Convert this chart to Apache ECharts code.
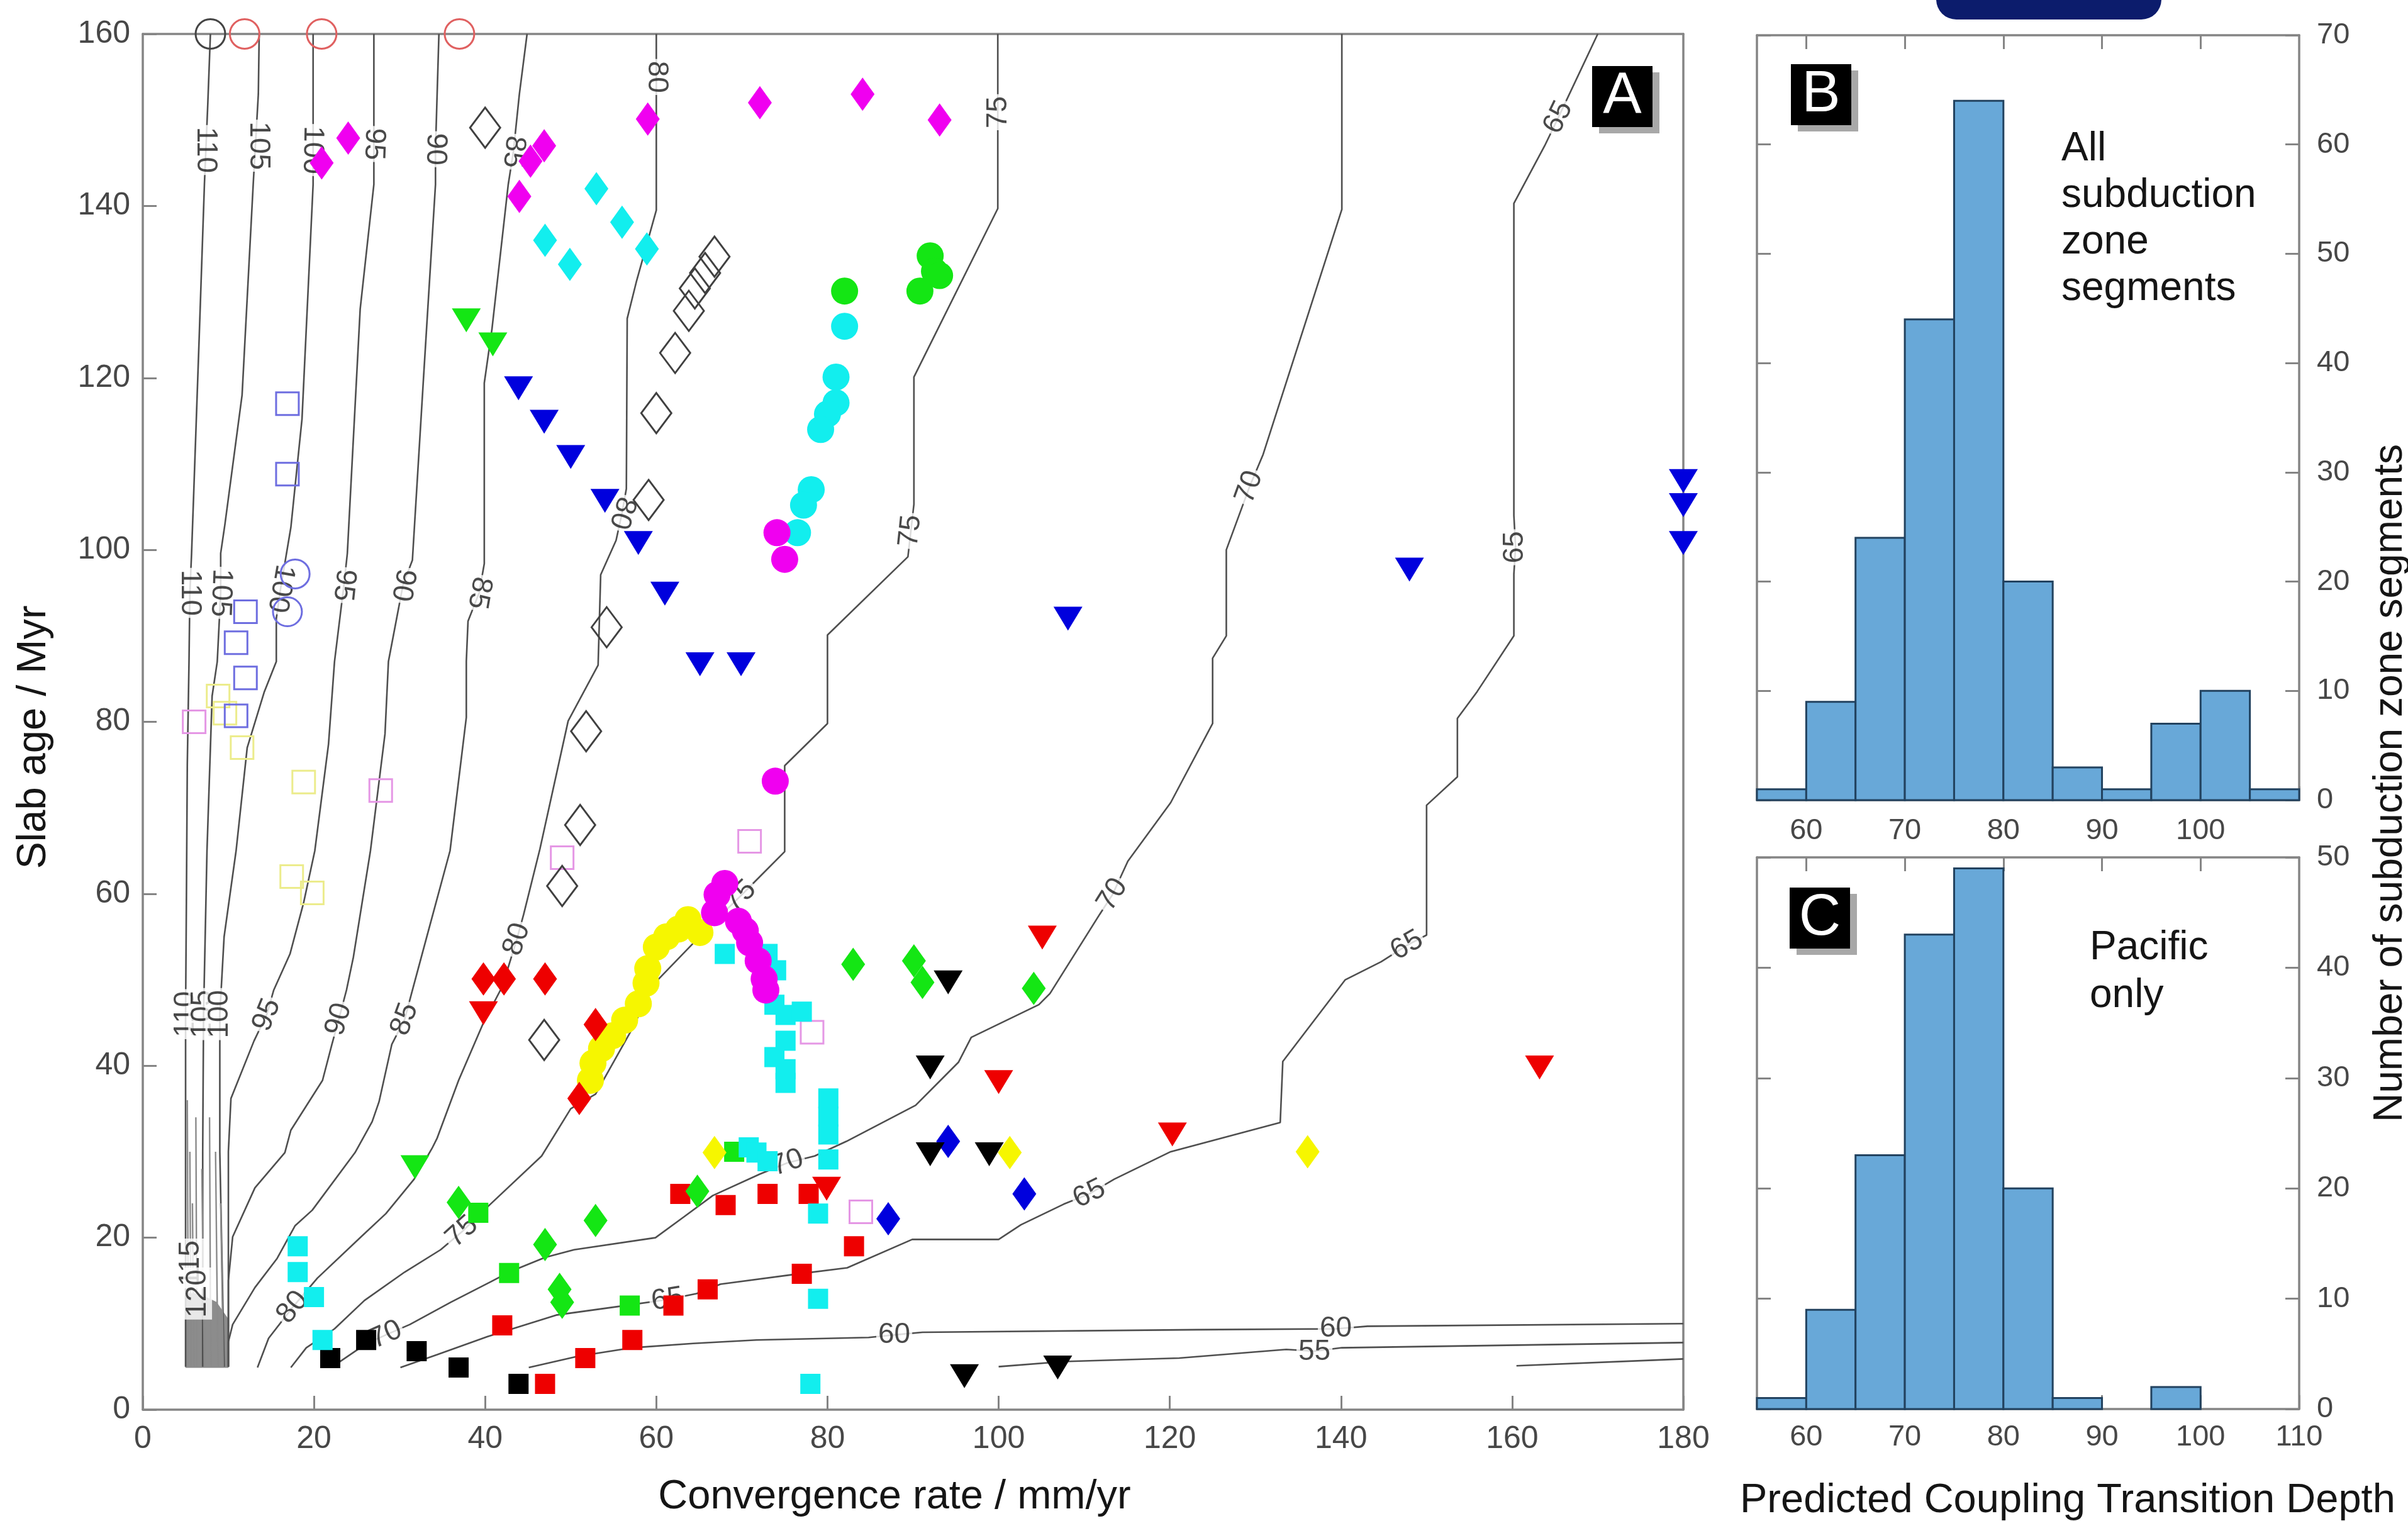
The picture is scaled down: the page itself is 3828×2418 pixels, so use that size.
<!DOCTYPE html>
<html><head><meta charset="utf-8">
<script src="https://cdn.jsdelivr.net/npm/echarts@6/dist/echarts.min.js"></script>
<style>html,body{margin:0;padding:0;background:#fff}#c{width:3828px;height:2418px}</style>
</head><body><div id="c"></div>
<script>
// ---------------- DATA ----------------
// Panel A axes ticks
const aXTicks = [0,20,40,60,80,100,120,140,160,180];
const aYTicks = [0,20,40,60,80,100,120,140,160];
// Histogram axes ticks
const histXLabelsB = [60,70,80,90,100];
const histXLabelsC = [60,70,80,90,100,110];
const histXTickVals = [60,70,80,90,100,110];
const histBYTicks = [0,10,20,30,40,50,60,70];
const histCYTicks = [0,10,20,30,40,50];
// Histogram bins (5 km) and counts
const binStarts = [55,60,65,70,75,80,85,90,95,100,105];
const binEnds   = [60,65,70,75,80,85,90,95,100,105,110];
const countsAll     = [1,9,24,44,64,20,3,1,7,10,1];
const countsPacific = [1,9,23,43,49,20,1,0,2,0,0];

// Contours of coupling transition depth (convergence rate mm/yr, slab age Myr)
const c110 = [[7.9,160],[7.6,152],[7.2,142.5],[6.6,125],[6.0,108],[5.7,99.6],[5.5,95],[5.4,87],[5.2,75],[5.1,60],[5.0,46],[5.0,30],[5.0,5]];
const c105 = [[13.6,160],[13.5,153],[12.9,142.5],[11.6,118],[9.6,103],[9.1,99.6],[9.1,95],[8.7,87],[8.1,83],[7.5,65],[7.1,46],[7.0,30],[7.0,5]];
const c100 = [[19.9,160],[19.9,142.5],[18.6,115.2],[17.3,102.6],[16.1,95.5],[15.6,92],[15.6,87],[14.2,83.5],[12.2,77],[10.9,65],[9.5,55],[9.0,46],[9.0,30],[9.3,15],[9.5,5]];
const c95 = [[27.0,160],[27.0,142.5],[25.4,128],[23.9,99.6],[23.5,95.9],[22.4,87],[21.7,77.4],[20.1,65],[18.8,59],[17.2,53],[15.3,48.8],[14.5,46],[13.0,42.9],[10.3,36.2],[10.0,30],[10.0,19],[10.0,5]];
const c90 = [[34.6,160],[34.2,146.6],[34.2,142.5],[32.8,120],[31.5,98.8],[30.4,95.9],[28.7,87],[28.3,78.6],[26.6,65],[24.6,52.6],[23.8,48.8],[22.9,45.4],[22.1,42.5],[21.0,38.3],[17.3,32.5],[16.6,29.9],[13.1,25.8],[10.5,20.1],[10.0,15],[10.0,5]];
const c85 = [[44.9,160],[44.0,153],[43.3,146.3],[42.7,142.5],[40.8,125.7],[39.9,119.4],[39.9,98.4],[39.3,95],[38.0,91.7],[37.8,87],[37.8,80.5],[35.9,65],[33.1,54.7],[31.4,48.4],[30.6,45.4],[29.1,42.5],[27.6,35.8],[26.8,33.5],[24.8,29.9],[19.8,23.2],[17.8,21.4],[15.7,17.6],[13.1,14.2],[10.5,9.9],[10.0,7.9],[10.0,5]];
const c80 = [[60.0,160],[60.0,155],[60.0,139.5],[57.7,131.3],[56.6,126.9],[56.5,107.1],[56.0,104.3],[55.3,101.1],[53.5,97.1],[53.2,86.6],[49.7,80.1],[46.4,65.2],[44.5,57.6],[43.7,54.7],[42.0,49.2],[39.8,45.0],[36.9,38.3],[34.4,31.6],[33.8,30.4],[31.7,26.8],[28.4,22.8],[25.5,20.1],[20.4,15.3],[17.5,11.9],[14.7,8.3],[13.4,4.9]];
const c75 = [[99.9,160],[99.9,148],[99.9,139.7],[90.1,120.1],[90.1,105.3],[89.4,99.2],[80.0,90.1],[80.0,79.8],[75.0,74.9],[75.0,64.9],[71.5,61.4],[69.8,59.7],[66.4,56.4],[59.9,49.7],[56.9,43.8],[52.9,36.7],[50.0,35.0],[46.6,29.5],[40.3,23.6],[37.3,20.7],[34.8,18.6],[30.6,16.0],[25.9,12.7],[22.4,9.4],[19.1,7.2],[17.3,4.9]];
const c70 = [[140.1,160],[140.1,139.6],[130.9,111.1],[129.3,107.3],[126.6,100.0],[126.6,90.0],[125.0,87.4],[125.0,79.8],[120.1,70.6],[115.1,63.8],[113.3,59.9],[111.8,57.6],[106.0,48.4],[104.7,47.1],[96.8,43.3],[95.3,40.4],[93.2,38.3],[90.3,35.4],[82.2,31.2],[78.5,29.5],[75.3,28.7],[72.1,27.4],[66.6,24.9],[63.2,22.4],[59.9,20.0],[50.4,18.6],[47.0,17.7],[42.8,16.0],[40.7,14.9],[36.0,12.5],[31.2,9.9],[28.4,8.7],[26.0,7.6],[22.9,5.5]];
const c65 = [[170.0,160],[165.4,150.3],[163.8,147.0],[160.2,140.3],[160.2,104],[160.4,100.3],[160.2,97.2],[160.2,90.0],[155.9,83.5],[153.6,80.4],[153.6,73.6],[150.0,70.3],[150.0,55.2],[147.7,54.0],[144.7,52.1],[140.5,50.0],[133.2,40.5],[132.9,33.4],[120.1,30.0],[113.5,26.8],[110.6,25.1],[107.6,23.9],[102.6,21.5],[100.0,19.8],[89.9,19.8],[82.3,16.5],[75.9,15.7],[67.5,14.6],[64.7,13.5],[61.3,12.8],[56.3,12.1],[48.3,11.0],[40.3,8.5],[34.4,6.4],[30.1,4.9]];
const c60 = [[45.1,4.9],[50.8,6.2],[57.2,7.2],[64.3,7.7],[71.7,8.1],[84.8,8.4],[87.8,8.7],[91.1,9.0],[123.2,9.3],[139.4,9.4],[143.1,9.7],[180,10.0]];
const c55 = [[100.0,5.0],[107.6,5.6],[121.1,6.0],[133.6,7.0],[136.9,6.8],[140.1,7.2],[180,7.8]];
const c50 = [[160.5,5.1],[180,5.9]];
const cFan1 = [[5.6,5],[5.6,12],[5.5,30]];
const cFan2 = [[6.3,5],[6.3,12],[6.2,34]];
const cFan3 = [[8.0,5],[7.9,12],[7.8,34]];
const cFan4 = [[8.8,5],[8.7,12],[8.5,30]];
const cFan5 = [[5.3,5],[5.3,12],[5.2,36]];
const cFan6 = [[7.2,5],[7.1,12],[6.9,28]];
const cFan7 = [[9.4,5],[9.3,12],[9.1,24]];
const cFan8 = [[6.0,5],[5.9,12],[5.8,24]];
const fanPolygon = [[5.0,4.9],[10.0,4.9],[10.0,10.5],[8.6,12.5],[6.5,13.5],[5.0,13.5]];

// Contour labels: [x, y, text]
const contourLabels = [
 [7.3,146.5,'110'],[13.5,147,'105'],[19.8,146.5,'100'],[27.0,147.2,'95'],[34.2,146.6,'90'],[43.3,146.3,'85'],
 [5.5,95.0,'110'],[9.1,95.0,'105'],[16.1,95.5,'100'],[23.5,95.9,'95'],[30.4,95.9,'90'],[39.3,95.0,'85'],
 [60.0,155,'80'],[100.0,150.9,'75'],[56.0,104.3,'80'],[89.7,102.2,'75'],[129.3,107.3,'70'],[160.3,100.3,'65'],[165.4,150.3,'65'],
 [5.0,46,'110'],[7.0,46,'105'],[9.0,46,'100'],[14.5,45.9,'95'],[22.9,45.4,'90'],[30.6,45.4,'85'],[43.7,54.7,'80'],
 [17.5,11.9,'80'],[37.3,20.7,'75'],[69.8,59.7,'75'],[28.4,8.7,'70'],[75.3,28.7,'70'],[113.3,59.9,'70'],
 [61.3,12.8,'65'],[110.6,25.1,'65'],[147.7,54.0,'65'],[87.8,8.7,'60'],[139.4,9.4,'60'],[136.9,6.7,'55'],
 [5.6,17,'115'],[6.4,13.5,'120']
];
const contourLabelAngles = [
 -90,-90,-91,-92,-91,-96,
 -90,-92,-100,-96,-100,-100,
 -90,90,-107,84,70,90,64,
 90,90,90,68,74,70,72,
 51,42,44,24,19,58,
 9,26,30,0,0,0,
 90,90
];

// Scatter data: [convergence rate, slab age]
const magentaDiamonds = [[20.9,145.0],[24.0,147.9],[44.0,141.1],[45.3,145.2],[46.9,147.0],[59.0,150.1],[72.1,152.0],[84.1,153.0],[93.1,150.0]];
const cyanDiamonds = [[53.0,142.0],[56.0,138.1],[47.0,136.0],[49.9,133.2],[58.9,135.0]];
const openDiamonds = [[40.0,149.1],[66.8,134.1],[65.7,132.2],[64.5,130.4],[63.8,127.8],[62.2,122.9],[60.0,115.9],[59.1,105.8],[54.2,91.0],[51.8,78.9],[51.1,68.0],[49.0,60.9],[46.9,43.0]];
const greenTriangles = [[37.8,126.7],[40.9,123.9],[31.8,28.2]];
const blueTriangles = [[43.9,118.8],[46.9,114.9],[50.0,110.8],[54.0,105.7],[57.9,100.8],[61.0,94.9],[65.1,86.7],[69.9,86.7],[108.1,92.0],[148.0,97.7],[180,108.0],[180,105.2],[180,100.8]];
const redTriangles = [[39.8,46.1],[105.1,54.9],[100.0,38.1],[79.9,25.7],[120.3,32.0],[163.2,39.8]];
const blackTriangles = [[94.1,49.7],[92.0,39.8],[92.0,29.7],[98.9,29.7],[96.0,3.9],[106.9,4.9]];
const greenCircles = [[82.0,130.1],[92.0,134.2],[92.5,132.4],[93.1,131.9],[90.8,130.1]];
const cyanCircles = [[82.0,126.0],[81.0,120.1],[81.0,117.1],[80.0,115.8],[79.2,114.0],[78.1,107.0],[77.2,105.2],[76.5,102.0]];
const yellowCircles = [[52.3,38.3],[52.6,40.3],[53.6,42.0],[54.9,43.5],[56.3,45.3],[57.9,47.2],[58.8,49.6],[59.0,51.3],[60.0,53.8],[61.2,55.0],[62.6,55.9],[63.7,57.0],[65.1,55.5]];
const magentaCircles = [[74.1,102.0],[75.0,98.9],[73.9,73.1],[68.0,61.2],[67.1,59.9],[66.8,57.8],[69.6,56.8],[70.4,55.7],[70.9,54.3],[71.9,52.2],[72.6,50.1],[72.8,48.8]];
const redDiamonds = [[39.8,50.1],[42.2,50.1],[47.0,50.1],[52.9,44.8],[51.0,36.2]];
const greenDiamonds = [[36.9,24.1],[47.0,19.2],[52.9,22.0],[48.7,14.0],[49.0,12.5],[64.8,25.4],[83.0,51.8],[90.1,52.2],[91.1,49.7],[104.1,49.0]];
const blueDiamonds = [[94.1,31.2],[103.0,25.1],[87.1,22.2]];
const yellowDiamonds = [[66.8,29.9],[101.3,29.9],[136.1,30.0]];
const redSquares = [[62.8,25.1],[68.1,23.8],[73.0,25.1],[77.8,25.1],[83.1,19.0],[77.0,15.8],[66.0,14.0],[62.0,12.1],[57.2,8.1],[42.0,9.8],[51.7,6.0],[47.0,3.0]];
const blackSquares = [[21.9,6.0],[26.1,8.1],[32.0,6.8],[36.9,4.9],[43.9,3.0]];
const greenSquares = [[42.8,15.9],[56.9,12.1],[69.1,30.0],[39.2,22.9]];
const cyanSquares = [[18.1,19.0],[18.1,16.0],[20.0,13.1],[21.0,8.1],[68.0,53.0],[73.0,53.0],[74.0,51.1],[73.8,47.1],[75.1,45.9],[77.0,46.3],[75.1,42.9],[73.8,41.0],[75.1,39.6],[75.1,38.0],[80.1,36.2],[80.1,34.1],[80.1,32.0],[80.1,29.1],[70.8,30.5],[71.7,29.9],[73.0,28.9],[78.9,22.8],[78.9,12.9],[78.0,3.0]];
const violetOpenSquares = [[6.0,80.0],[27.8,72.0],[49.0,64.2],[70.9,66.1],[78.2,43.9],[83.9,23.0]];
const blueOpenSquares = [[16.9,117.0],[16.9,108.8],[12.0,92.8],[10.9,89.2],[12.0,85.1],[10.9,80.7]];
const yellowOpenSquares = [[8.8,83.0],[9.6,81.0],[11.6,77.0],[18.8,73.0],[17.4,62.0],[19.8,60.1]];
const blueOpenCircles = [[17.8,97.2],[16.9,92.8]];
const redOpenCircles = [[11.9,160],[20.9,160],[37.0,160]];
const blackOpenCircles = [[7.9,160]];

// ---------------- CHART ----------------
const FONT = '"Liberation Sans", Arial, Helvetica, sans-serif';
const AX = '#858585';
const chart = echarts.init(document.getElementById('c'), null, {renderer:'canvas', width:3828, height:2418});

function xAx(grid, min, max, pos, opts) {
  return Object.assign({
    gridIndex:grid, type:'value', min:min, max:max, position:pos,
    axisLine:{show:true, onZero:false, lineStyle:{color:AX, width:3.5}},
    axisTick:{show:false}, axisLabel:{show:false}, splitLine:{show:false}
  }, opts || {});
}
const tickStyle = {show:true, inside:true, length:22, lineStyle:{color:AX, width:3}};
const labStyle = (size, margin) => ({show:true, fontSize:size, color:'#474747', fontFamily:FONT, margin:margin});

const xAxis = [
  xAx(0, aXTicks[0], aXTicks[aXTicks.length-1], 'bottom', {interval:aXTicks[1]-aXTicks[0], axisTick:tickStyle, axisLabel:labStyle(50,22)}),
  xAx(0, aXTicks[0], aXTicks[aXTicks.length-1], 'top', {interval:aXTicks[1]-aXTicks[0]}),
  xAx(1, binStarts[0], binEnds[binEnds.length-1], 'bottom', {axisTick:Object.assign({customValues:histXTickVals}, tickStyle), axisLabel:Object.assign({customValues:histXLabelsB}, labStyle(47,26))}),
  xAx(1, binStarts[0], binEnds[binEnds.length-1], 'top', {axisTick:Object.assign({customValues:histXLabelsB}, tickStyle)}),
  xAx(2, binStarts[0], binEnds[binEnds.length-1], 'bottom', {axisTick:Object.assign({customValues:histXTickVals}, tickStyle), axisLabel:Object.assign({customValues:histXLabelsC}, labStyle(47,22))}),
  xAx(2, binStarts[0], binEnds[binEnds.length-1], 'top', {axisTick:Object.assign({customValues:histXLabelsB}, tickStyle)})
];
const yAxis = [
  xAx(0, aYTicks[0], aYTicks[aYTicks.length-1], 'left', {interval:aYTicks[1]-aYTicks[0], axisTick:tickStyle, axisLabel:labStyle(50,20)}),
  xAx(0, aYTicks[0], aYTicks[aYTicks.length-1], 'right', {interval:aYTicks[1]-aYTicks[0]}),
  xAx(1, histBYTicks[0], histBYTicks[histBYTicks.length-1], 'right', {interval:histBYTicks[1]-histBYTicks[0], axisTick:tickStyle, axisLabel:labStyle(47,28)}),
  xAx(1, histBYTicks[0], histBYTicks[histBYTicks.length-1], 'left', {interval:histBYTicks[1]-histBYTicks[0], axisTick:tickStyle}),
  xAx(2, histCYTicks[0], histCYTicks[histCYTicks.length-1], 'right', {interval:histCYTicks[1]-histCYTicks[0], axisTick:tickStyle, axisLabel:labStyle(47,28)}),
  xAx(2, histCYTicks[0], histCYTicks[histCYTicks.length-1], 'left', {interval:histCYTicks[1]-histCYTicks[0], axisTick:tickStyle})
];

const series = [];
// fan of crowded contours (filled grey)
series.push({
  type:'custom', xAxisIndex:0, yAxisIndex:0, z:2, silent:true,
  data:[fanPolygon[0]],
  renderItem:function(params, api){
    const pts = fanPolygon.map(p => api.coord(p));
    return {type:'polygon', shape:{points:pts}, style:{fill:'#8c8c8c', stroke:'#8c8c8c', lineWidth:1}};
  }
});
const contourList = [c110,c105,c100,c95,c90,c85,c80,c75,c70,c65,c60,c55,c50];
contourList.forEach(c => series.push({
  type:'line', xAxisIndex:0, yAxisIndex:0, data:c, symbol:'none', showSymbol:false,
  lineStyle:{color:'#4f4f4f', width:2.6}, silent:true, z:2, animation:false
}));
[cFan1,cFan2,cFan3,cFan4,cFan5,cFan6,cFan7,cFan8].forEach(c => series.push({
  type:'line', xAxisIndex:0, yAxisIndex:0, data:c, symbol:'none', showSymbol:false,
  lineStyle:{color:'#8a8a8a', width:2.4}, silent:true, z:2, animation:false
}));
series.push({
  type:'scatter', xAxisIndex:0, yAxisIndex:0, z:3, silent:true, symbolSize:1,
  itemStyle:{color:'rgba(0,0,0,0)'},
  label:{show:true, position:'inside', fontSize:46, color:'#1c1c1c', fontFamily:FONT,
         backgroundColor:'#ffffff', padding:[0,3], lineHeight:46},
  data: contourLabels.map((l,i) => ({value:[l[0], l[1]], label:{formatter:l[2], rotate:contourLabelAngles[i]}}))
});

function mark(data, symbol, size, color, filled, rotate, z) {
  const s = {
    type:'scatter', xAxisIndex:0, yAxisIndex:0, data:data, symbol:symbol, symbolSize:size,
    symbolRotate: rotate || 0, clip:false, silent:true, z:z || 5, animation:false
  };
  s.itemStyle = filled ? {color:color, opacity:1} : {color:'rgba(0,0,0,0)', borderColor:color, borderWidth:3, opacity:1};
  return s;
}
const DIA = [38,53], TRI = [46,38], SQ = 32, CIR = 43;
series.push(mark(violetOpenSquares, 'rect', 36, '#e597e5', false, 0, 4));
series.push(mark(yellowOpenSquares, 'rect', 36, '#ecec8c', false, 0, 4));
series.push(mark(blueOpenSquares, 'rect', 36, '#6e6ee0', false, 0, 4));
series.push(mark(blueOpenCircles, 'circle', 46, '#6e6ee0', false, 0, 4));
series.push(mark(redOpenCircles, 'circle', 47, '#e06060', false, 0, 4));
series.push(mark(blackOpenCircles, 'circle', 47, '#444444', false, 0, 4));
series.push(mark(openDiamonds, 'diamond', [48,64], '#404040', false, 0, 4));
series.push(mark(magentaDiamonds, 'diamond', DIA, '#f000f0', true));
series.push(mark(cyanDiamonds, 'diamond', DIA, '#12eeee', true));
series.push(mark(greenCircles, 'circle', CIR, '#14e614', true));
series.push(mark(cyanCircles, 'circle', CIR, '#12eeee', true));
series.push(mark(yellowCircles, 'circle', CIR, '#f6f600', true));
series.push(mark(redSquares, 'rect', SQ, '#ee0000', true));
series.push(mark(blackSquares, 'rect', SQ, '#000000', true));
series.push(mark(greenSquares, 'rect', SQ, '#14e614', true));
series.push(mark(cyanSquares, 'rect', SQ, '#12eeee', true, 0, 6));
series.push(mark(magentaCircles, 'circle', CIR, '#f000f0', true, 0, 6));
series.push(mark(redDiamonds, 'diamond', DIA, '#ee0000', true));
series.push(mark(greenDiamonds, 'diamond', DIA, '#14e614', true));
series.push(mark(blueDiamonds, 'diamond', DIA, '#0000dd', true));
series.push(mark(yellowDiamonds, 'diamond', DIA, '#f6f600', true));
series.push(mark(greenTriangles, 'triangle', TRI, '#14e614', true, 180, 7));
series.push(mark(blueTriangles, 'triangle', TRI, '#0000dd', true, 180, 7));
series.push(mark(redTriangles, 'triangle', TRI, '#ee0000', true, 180, 7));
series.push(mark(blackTriangles, 'triangle', TRI, '#000000', true, 180, 7));

// Histograms
function histSeries(counts, xi, yi) {
  const data = [];
  counts.forEach((c,i) => { if (c > 0) data.push([binStarts[i], binEnds[i], c]); });
  return {
    type:'custom', xAxisIndex:xi, yAxisIndex:yi, silent:true, z:2, data:data,
    encode:{x:[0,1], y:2},
    renderItem:function(params, api){
      const p0 = api.coord([api.value(0), api.value(2)]);
      const p1 = api.coord([api.value(1), 0]);
      return {type:'rect', shape:{x:p0[0], y:p0[1], width:p1[0]-p0[0], height:p1[1]-p0[1]},
              style:{fill:'#68a8d8', stroke:'#22425f', lineWidth:3}};
    }
  };
}
series.push(histSeries(countsAll, 2, 2));
series.push(histSeries(countsPacific, 4, 4));

function panelLabel(ch, x, y) {
  return [
    {type:'rect', shape:{x:x+11, y:y+10, width:96, height:97}, style:{fill:'#a8a8a8'}, z:100},
    {type:'rect', shape:{x:x, y:y, width:96, height:97}, style:{fill:'#000'}, z:101},
    {type:'text', x:x+48, y:y+50, z:102, style:{text:ch, fill:'#fff', font:'92px ' + FONT, align:'center', verticalAlign:'middle', textAlign:'center', textVerticalAlign:'middle'}}
  ];
}
function txt(t, x, y, size, opts) {
  return Object.assign({type:'text', x:x, y:y, z:100, style:Object.assign({text:t, fill:'#151515', font:size + 'px ' + FONT, align:'center', verticalAlign:'middle', textAlign:'center', textVerticalAlign:'middle'}, (opts && opts.style) || {})}, opts && opts.rotation ? {rotation:opts.rotation} : {});
}

const graphic = [].concat(
  panelLabel('A', 2531, 105),
  panelLabel('B', 2847, 102),
  panelLabel('C', 2845, 1411),
  [
    {type:'rect', shape:{x:3078, y:-40, width:358, height:71, r:32}, style:{fill:'#0c1c6c'}, z:100},
    txt('Slab age / Myr', 54, 1172, 65, {rotation:Math.PI/2}),
    txt('Convergence rate / mm/yr', 1422, 2380, 65),
    txt('Number of subduction zone segments', 3800, 1245, 64, {rotation:Math.PI/2}),
    txt('Predicted Coupling Transition Depth', 2766, 2386, 65, {style:{align:'left', textAlign:'left'}}),
    txt('All\nsubduction\nzone\nsegments', 3277, 200, 64, {style:{align:'left', textAlign:'left', verticalAlign:'top', textVerticalAlign:'top', lineHeight:74}}),
    txt('Pacific\nonly', 3322, 1469, 64, {style:{align:'left', textAlign:'left', verticalAlign:'top', textVerticalAlign:'top', lineHeight:76}})
  ]
);

chart.setOption({
  animation:false,
  backgroundColor:'#ffffff',
  grid:[
    {left:227, top:54, width:2449, height:2187, containLabel:false, outerBoundsMode:'none'},
    {left:2793, top:56, width:862, height:1216, containLabel:false, outerBoundsMode:'none'},
    {left:2793, top:1363, width:862, height:877, containLabel:false, outerBoundsMode:'none'}
  ],
  xAxis:xAxis, yAxis:yAxis, series:series, graphic:graphic
});
</script></body></html>
